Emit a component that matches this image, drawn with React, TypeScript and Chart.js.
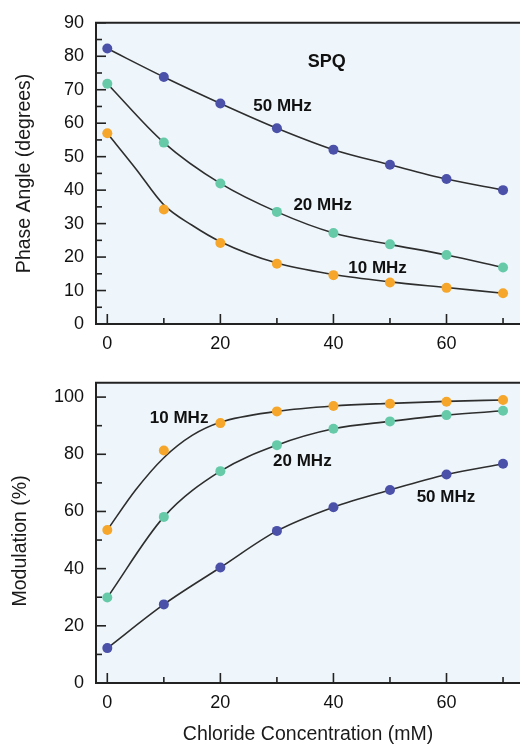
import React, { useEffect, useRef } from 'react';
import { Chart, registerables } from 'chart.js';

Chart.register(...registerables);

// ---------- data ----------
const concentrations = [0, 10, 20, 30, 40, 50, 60, 70];

const phase50 = [82.3, 73.8, 65.9, 58.5, 52.1, 47.6, 43.3, 40.0];
const phase20 = [71.8, 54.2, 42.0, 33.5, 27.2, 23.8, 20.6, 16.9];
const phase10 = [57.0, 34.2, 24.2, 18.0, 14.6, 12.4, 10.8, 9.2];
// fitted curve for 10 MHz
const phaseFit10X = [0, 5, 10, 15, 20, 30, 40, 50, 60, 70];
const phaseFit10 = [57.0, 46.5, 35.6, 29.5, 24.6, 18.2, 14.8, 12.6, 10.9, 9.2];

const mod10 = [53.5, 81.3, 90.9, 95.0, 96.9, 97.7, 98.4, 99.0];
const mod20 = [29.9, 58.1, 74.1, 83.2, 88.9, 91.5, 93.7, 95.2];
const mod50 = [12.2, 27.5, 40.4, 53.2, 61.5, 67.5, 72.9, 76.7];
const modFit10X = [0, 5, 10, 15, 20, 30, 40, 50, 60, 70];
const modFit10 = [53.5, 67.5, 78.8, 86.6, 91.2, 95.0, 96.9, 97.8, 98.5, 99.0];

const xTicks = [0, 20, 40, 60];
const xMinorTicks = [10, 30, 50, 70];
const phaseTicks = [0, 10, 20, 30, 40, 50, 60, 70, 80, 90];
const phaseMinorTicks = [5, 15, 25, 35, 45, 55, 65, 75, 85];
const modTicks = [0, 20, 40, 60, 80, 100];
const modMinorTicks = [10, 30, 50, 70, 90];

const phaseLabels = [
  { text: 'SPQ', x: 38.8, y: 78.4 },
  { text: '50 MHz', x: 31.0, y: 65.1 },
  { text: '20 MHz', x: 38.1, y: 35.6 },
  { text: '10 MHz', x: 47.8, y: 16.7 },
];
const modLabels = [
  { text: '10 MHz', x: 12.7, y: 92.7 },
  { text: '20 MHz', x: 34.5, y: 77.5 },
  { text: '50 MHz', x: 59.9, y: 64.9 },
];

// ---------- style ----------
const FONT = '"Liberation Sans", Arial, Helvetica, sans-serif';
const C50 = '#4b50a8';
const C20 = '#66caa9';
const C10 = '#f5a62b';
const LINE = '#2e2e2e';
const AXIS = '#222222';
const BG = '#eef6fb';

const pts = (xs: number[], ys: number[]) => xs.map((x, i) => ({ x, y: ys[i] }));

function pointSet(data: number[], color: string) {
  return {
    data: pts(concentrations, data),
    showLine: false,
    pointRadius: 5,
    pointBackgroundColor: color,
    pointBorderColor: color,
    pointBorderWidth: 0,
    order: 0,
  };
}
function lineSet(xs: number[], ys: number[]) {
  return {
    data: pts(xs, ys),
    showLine: true,
    borderColor: LINE,
    borderWidth: 1.6,
    pointRadius: 0,
    cubicInterpolationMode: 'monotone',
    order: 1,
  };
}

function makeDecor(opts: {
  yMajor: number[];
  yMinor: number[];
  labels: { text: string; x: number; y: number }[];
  yTitle: string;
  yTitleX: number;
  yTitleDy: number;
  xTitle?: string;
  xTitleY?: number;
}) {
  return {
    id: 'decor',
    beforeDraw(chart: any) {
      const { ctx, chartArea: a } = chart;
      ctx.save();
      ctx.fillStyle = BG;
      ctx.fillRect(a.left, a.top, a.right - a.left, a.bottom - a.top);
      ctx.restore();
    },
    afterDraw(chart: any) {
      const { ctx, chartArea: a } = chart;
      const xs = chart.scales.x;
      const ys = chart.scales.y;
      ctx.save();
      // top border
      ctx.strokeStyle = AXIS;
      ctx.lineWidth = 2;
      ctx.beginPath();
      ctx.moveTo(a.left - 1, a.top);
      ctx.lineTo(a.right, a.top);
      ctx.stroke();
      // inner tick marks
      ctx.lineWidth = 1.6;
      const vx = (v: number, len: number) => {
        const p = xs.getPixelForValue(v);
        ctx.beginPath();
        ctx.moveTo(p, a.bottom);
        ctx.lineTo(p, a.bottom - len);
        ctx.stroke();
      };
      const hy = (v: number, len: number) => {
        const p = ys.getPixelForValue(v);
        ctx.beginPath();
        ctx.moveTo(a.left, p);
        ctx.lineTo(a.left + len, p);
        ctx.stroke();
      };
      xTicks.forEach((v) => vx(v, 10));
      xMinorTicks.forEach((v) => vx(v, 6));
      opts.yMajor.forEach((v) => hy(v, 10));
      opts.yMinor.forEach((v) => hy(v, 6));
      // annotation labels
      ctx.fillStyle = '#111';
      ctx.textAlign = 'center';
      ctx.textBaseline = 'middle';
      opts.labels.forEach((l) => {
        ctx.font = `bold ${l.text === 'SPQ' ? 18 : 17}px ${FONT}`;
        ctx.fillText(l.text, xs.getPixelForValue(l.x), ys.getPixelForValue(l.y));
      });
      // axis titles
      ctx.font = `19.5px ${FONT}`;
      ctx.fillStyle = '#1a1a1a';
      ctx.save();
      ctx.translate(opts.yTitleX, (a.top + a.bottom) / 2 + opts.yTitleDy);
      ctx.rotate(-Math.PI / 2);
      ctx.fillText(opts.yTitle, 0, 0);
      ctx.restore();
      if (opts.xTitle) {
        ctx.fillText(opts.xTitle, (a.left + a.right) / 2, opts.xTitleY);
      }
      ctx.restore();
    },
  };
}

function baseScales(yMin: number, yMax: number, yTicks: number[], xHeight: number) {
  const tickFont = { family: FONT, size: 18 };
  return {
    x: {
      type: 'linear',
      min: -2,
      max: 73,
      afterBuildTicks: (s: any) => {
        s.ticks = xTicks.map((v) => ({ value: v }));
      },
      afterFit: (s: any) => {
        s.height = xHeight;
      },
      grid: { display: false, drawTicks: false },
      border: { display: true, color: AXIS, width: 2 },
      ticks: { font: tickFont, color: '#111', padding: 9, maxRotation: 0, autoSkip: false },
    },
    y: {
      type: 'linear',
      min: yMin,
      max: yMax,
      afterBuildTicks: (s: any) => {
        s.ticks = yTicks.map((v) => ({ value: v }));
      },
      afterFit: (s: any) => {
        s.width = 96;
      },
      grid: { display: false, drawTicks: false },
      border: { display: true, color: AXIS, width: 2 },
      ticks: { font: tickFont, color: '#111', padding: 12, autoSkip: false },
    },
  };
}

export default function App() {
  const topRef = useRef<HTMLCanvasElement>(null);
  const botRef = useRef<HTMLCanvasElement>(null);

  useEffect(() => {
    const top = new Chart(topRef.current as HTMLCanvasElement, {
      type: 'scatter',
      data: {
        datasets: [
          pointSet(phase50, C50),
          pointSet(phase20, C20),
          pointSet(phase10, C10),
          lineSet(concentrations, phase50),
          lineSet(concentrations, phase20),
          lineSet(phaseFit10X, phaseFit10),
        ] as any,
      },
      options: {
        responsive: false,
        animation: false,
        layout: { autoPadding: false, padding: { top: 18, left: 0, right: 0, bottom: 0 } },
        plugins: { legend: { display: false }, tooltip: { enabled: false } },
        scales: baseScales(0, 90, phaseTicks, 36) as any,
      },
      plugins: [
        makeDecor({
          yMajor: phaseTicks,
          yMinor: phaseMinorTicks,
          labels: phaseLabels,
          yTitle: 'Phase Angle (degrees)',
          yTitleX: 25,
          yTitleDy: 0,
        }),
      ],
    });

    const bot = new Chart(botRef.current as HTMLCanvasElement, {
      type: 'scatter',
      data: {
        datasets: [
          pointSet(mod10, C10),
          pointSet(mod20, C20),
          pointSet(mod50, C50),
          lineSet(modFit10X, modFit10),
          lineSet(concentrations, mod20),
          lineSet(concentrations, mod50),
        ] as any,
      },
      options: {
        responsive: false,
        animation: false,
        layout: { autoPadding: false, padding: { top: 17, left: 0, right: 0, bottom: 0 } },
        plugins: { legend: { display: false }, tooltip: { enabled: false } },
        scales: baseScales(0, 105, modTicks, 63) as any,
      },
      plugins: [
        makeDecor({
          yMajor: modTicks,
          yMinor: modMinorTicks,
          labels: modLabels,
          yTitle: 'Modulation (%)',
          yTitleX: 21,
          yTitleDy: 8,
          xTitle: 'Chloride Concentration (mM)',
          xTitleY: 375,
        }),
      ],
    });

    return () => {
      top.destroy();
      bot.destroy();
    };
  }, []);

  return (
    <div style={{ position: 'absolute', left: 0, top: 0, width: 520, height: 746, background: '#fff' }}>
      <canvas ref={topRef} width={520} height={360} style={{ display: 'block' }} />
      <canvas ref={botRef} width={520} height={386} style={{ display: 'block' }} />
    </div>
  );
}
